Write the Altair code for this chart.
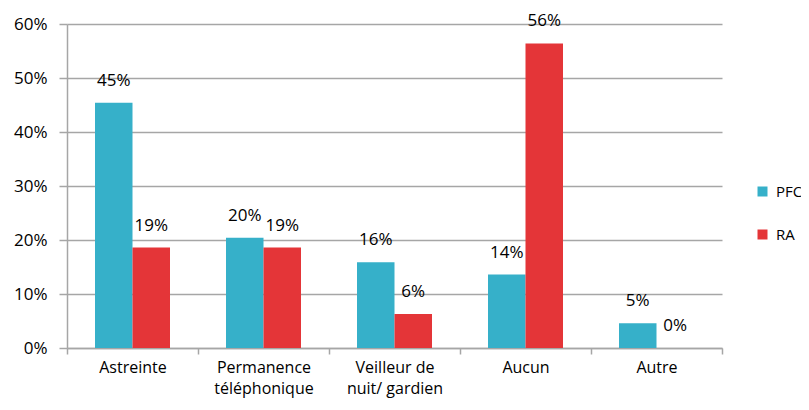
import altair as alt
import pandas as pd

categories = ["Astreinte", "Permanence\ntéléphonique", "Veilleur de\nnuit/ gardien", "Aucun", "Autre"]
series = ["PFC", "RA"]
pfc_values = [45.4, 20.4, 15.9, 13.6, 4.6]
ra_values = [18.6, 18.6, 6.3, 56.4, 0.0]
colors = ["#36B0C9", "#E43538"]
y_ticks = [0, 10, 20, 30, 40, 50, 60]

rows = []
for c, v in zip(categories, pfc_values):
    rows.append({"cat": c, "serie": "PFC", "val": v / 100})
for c, v in zip(categories, ra_values):
    rows.append({"cat": c, "serie": "RA", "val": v / 100})
df = pd.DataFrame(rows)

FONT = "Open Sans"
FS = 17

x = alt.X("cat:N", sort=categories, title=None,
          scale=alt.Scale(paddingInner=0, paddingOuter=0),
          axis=alt.Axis(labelExpr="split(datum.label, '\\n')", labelAngle=0,
                        tickBand="extent", domainColor="#A6A6A6", tickColor="#A6A6A6",
                        tickSize=6, domainWidth=1.5, tickWidth=1.5, labelPadding=5,
                        labelFontSize=16, labelFont=FONT, labelColor="#000",
                        labelLineHeight=21, grid=False))
y = alt.Y("val:Q", title=None,
          scale=alt.Scale(domain=[0, 0.6], nice=False),
          axis=alt.Axis(values=[t / 100 for t in y_ticks], format=".0%",
                        gridColor="#A6A6A6", gridWidth=1.5, domainColor="#A6A6A6",
                        domainWidth=1.5, tickColor="#A6A6A6", tickWidth=1.5, tickSize=8,
                        labelPadding=12, labelFontSize=FS, labelFont=FONT, labelColor="#000"))
x_off = alt.XOffset("serie:N", sort=series,
                    scale=alt.Scale(paddingInner=0, paddingOuter=0.7467))

bars = alt.Chart(df).mark_bar().encode(
    x=x, y=y,
    xOffset=x_off,
    color=alt.Color("serie:N", sort=series, title=None,
                    scale=alt.Scale(domain=series, range=colors),
                    legend=alt.Legend(orient="none", legendX=688, legendY=160, padding=0,
                                      symbolType="square", symbolSize=100, labelOffset=6,
                                      labelFontSize=15, labelFont=FONT, labelColor="#000",
                                      rowPadding=27, symbolStrokeWidth=0)),
)

labels = alt.Chart(df).mark_text(baseline="middle", dy=-22, fontSize=FS, font=FONT, color="#000").encode(
    x=alt.X("cat:N", sort=categories),
    xOffset=x_off,
    y="val:Q",
    text=alt.Text("val:Q", format=".0%"),
)

chart = (bars + labels).properties(
    width=655, height=324,
    padding={"top": 16, "left": 59, "right": 79, "bottom": 54},
    autosize=alt.AutoSizeParams(type="none"),
).configure_view(stroke=None)

chart.save("out.html", embed_options={"renderer": "svg", "actions": False})
